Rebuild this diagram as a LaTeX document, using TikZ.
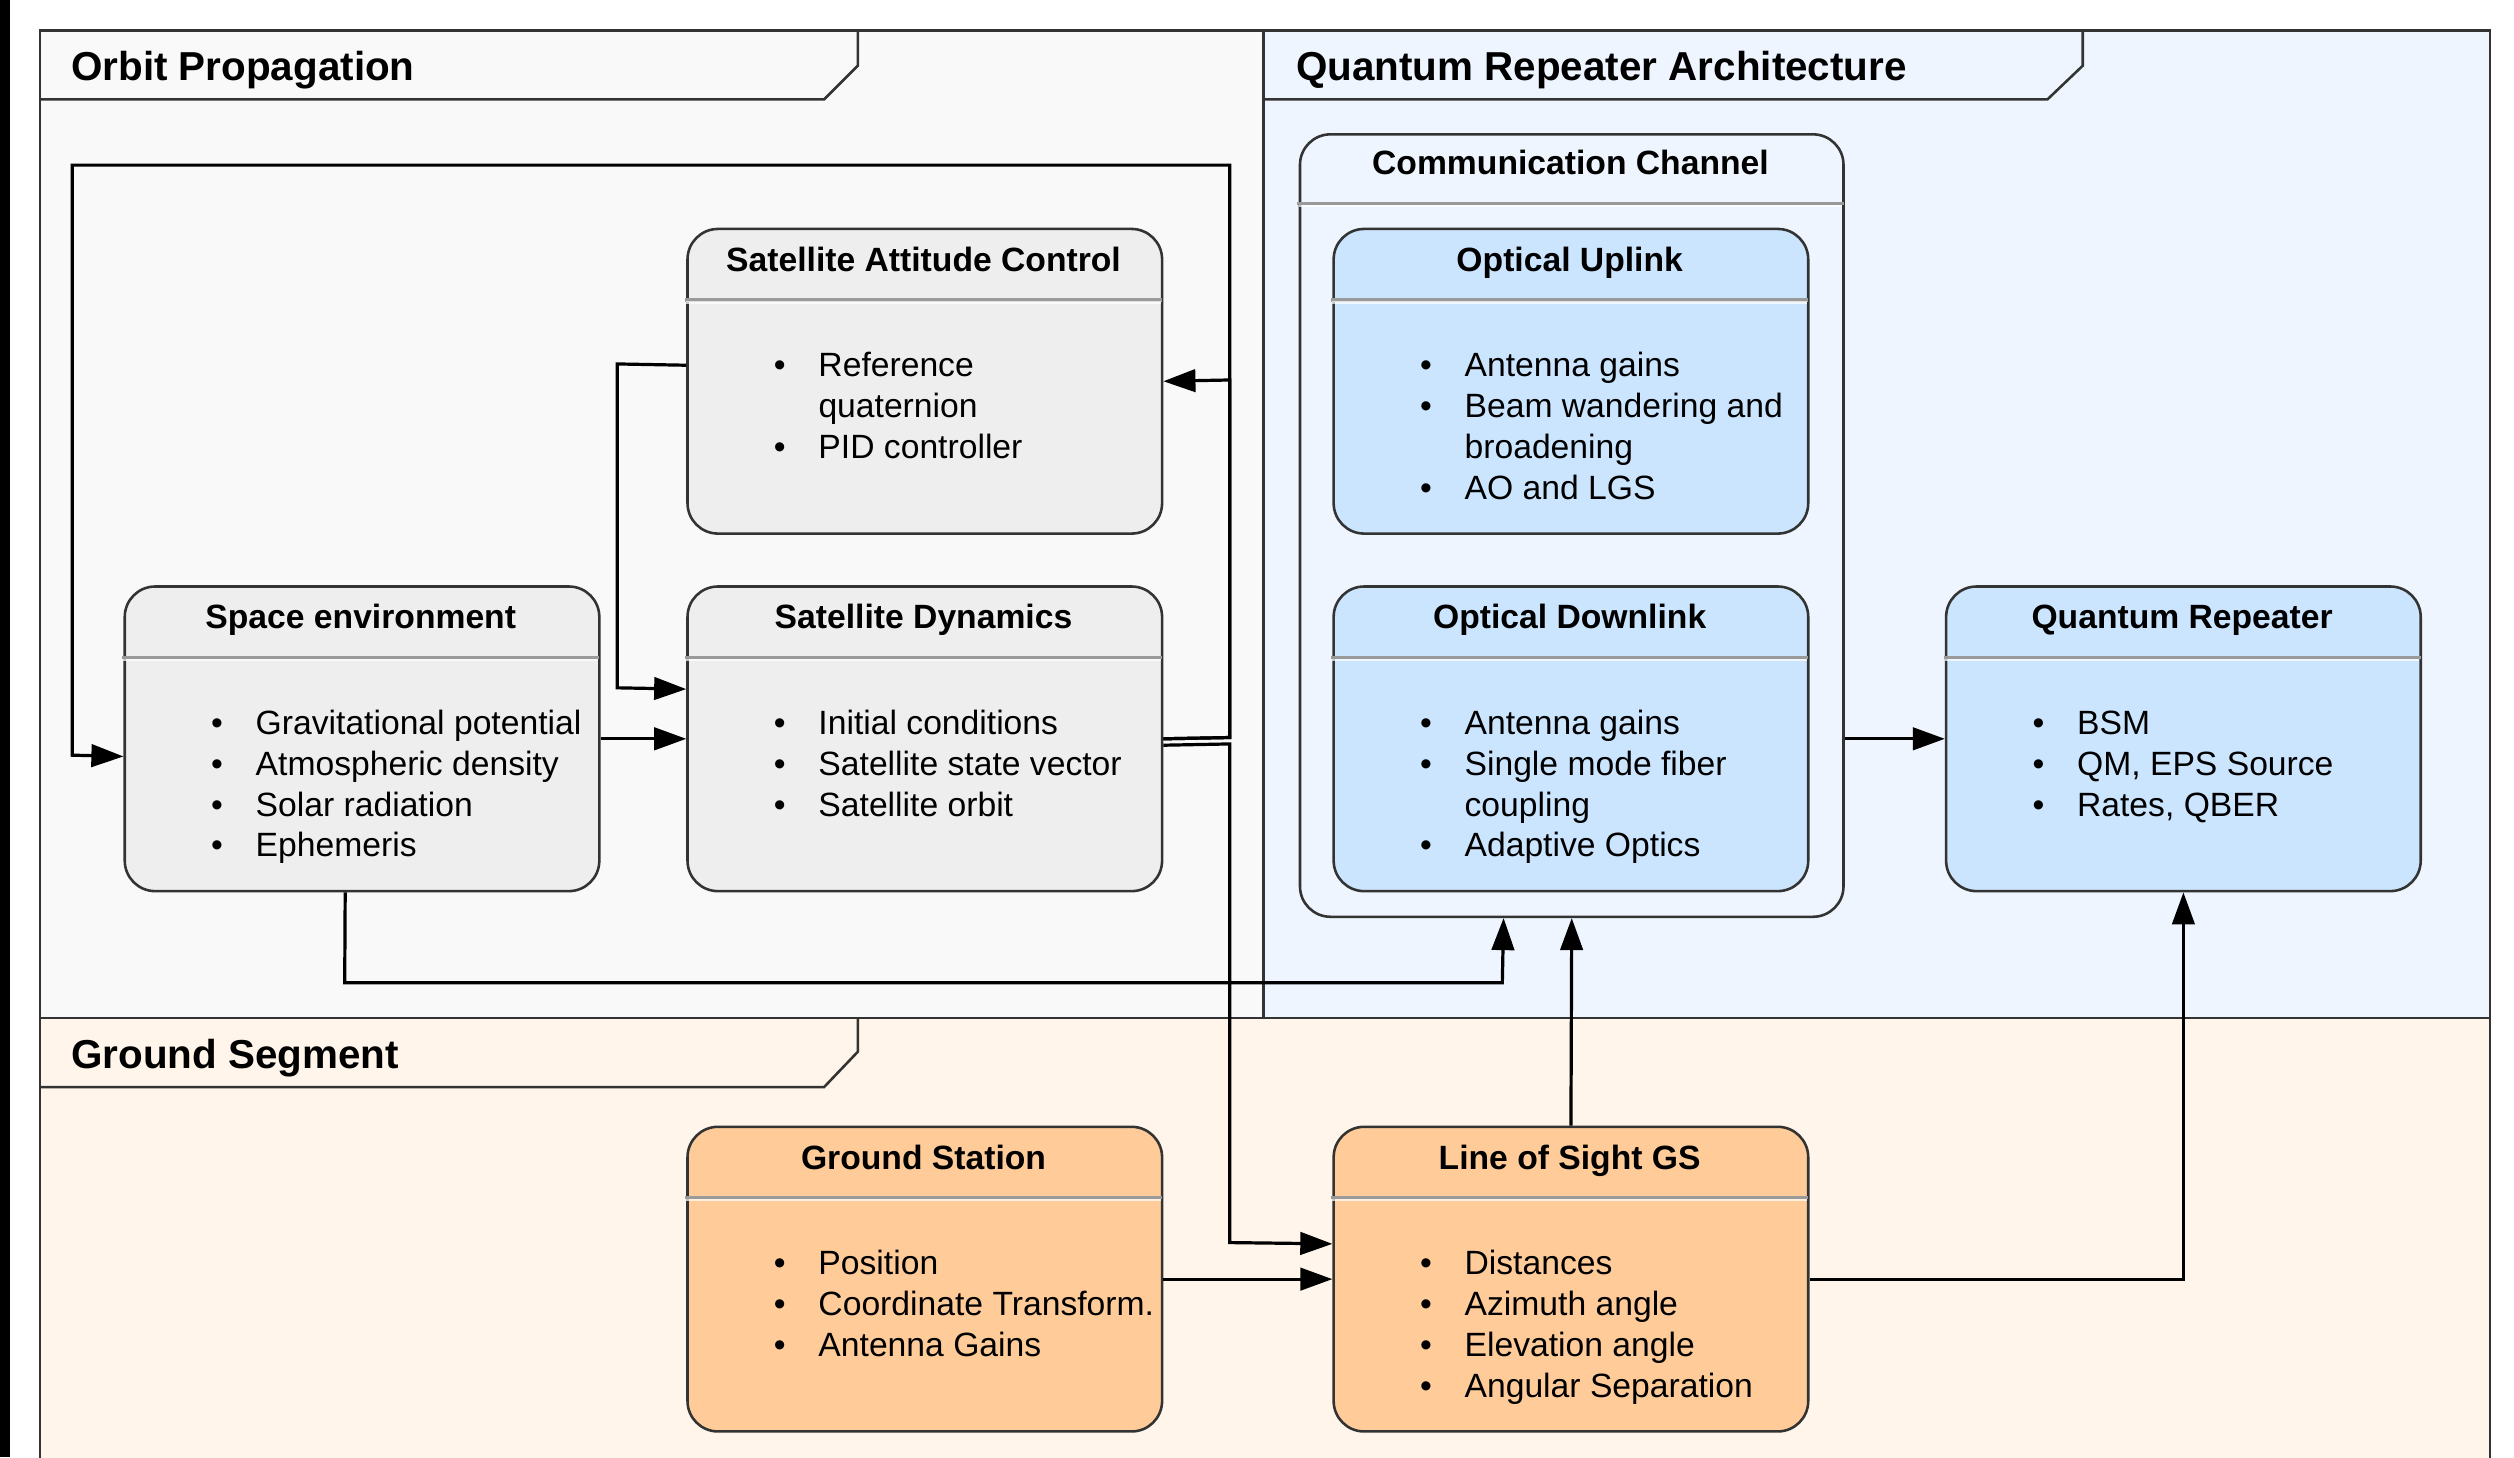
\documentclass[tikz,border=0pt]{standalone}
\usepackage{fontspec}
\setmainfont{Liberation Sans}
\usetikzlibrary{arrows.meta,calc}
\definecolor{strokec}{HTML}{333333}
\definecolor{sepgrey}{HTML}{9A9A9A}
\definecolor{orbitbg}{HTML}{F9F9F9}
\definecolor{qrabg}{HTML}{EEF5FE}
\definecolor{groundbg}{HTML}{FFF5EA}
\definecolor{greybox}{HTML}{EEEEEE}
\definecolor{bluebox}{HTML}{CCE5FF}
\definecolor{orangebox}{HTML}{FFCC99}
\tikzset{
  framest/.style={draw=strokec, line width=0.8pt},
  boxst/.style={draw=strokec, line width=0.8pt, rounded corners=9.5pt, minimum width=148pt, minimum height=95pt, inner sep=0pt},
  sepst/.style={draw=sepgrey, line width=1.1pt},
  seplight/.style={draw=white, opacity=0.7, line width=0.7pt},
  titlest/.style={font=\fontsize{10.5}{12.75}\selectfont\bfseries, inner sep=0pt, anchor=base},
  itemst/.style={font=\fontsize{10.5}{12.75}\selectfont, inner sep=0pt, anchor=base west},
  sectitle/.style={font=\fontsize{12.6}{15}\selectfont\bfseries, inner sep=0pt, anchor=base west},
  conn/.style={draw=black, line width=1pt, -{Triangle[length=10pt,width=7pt]}},
}
\newcommand{\bl}[1]{\makebox[13.9pt][l]{\textbullet}&#1\\}
\newcommand{\cn}[1]{&#1\\}
\newcommand{\ubox}[6]{%
  \node[boxst, fill=#4, anchor=north west] (#1) at (#2,#3) {};
  \node[titlest] (#1-title) at ({#2+148},{#3+27.3}) {#5};
  \draw[sepst] ({#2-0.8},{#3+45}) -- ({#2+296.8},{#3+45});
  \draw[seplight] ({#2},{#3+46.6}) -- ({#2+296},{#3+46.6});
  \node[itemst] (#1-items) at ({#2+54.3},{#3+93}) {\begin{tabular}[t]{@{}l@{}l@{}}#6\end{tabular}};
}
\begin{document}
\begin{tikzpicture}[x=0.5pt,y=-0.5pt]
\useasboundingbox (0,0) rectangle (1568,909);
\fill[white] (0,0) rectangle (1568,909);
\fill[black] (0,0) rectangle (6,909);

% section frames
\begin{scope}
\clip (0,0) rectangle (1568,909);
\draw[framest, fill=groundbg] (25,635) rectangle (1553,930);
\end{scope}
\draw[framest, fill=orbitbg] (25,19) rectangle (788,635);
\draw[framest, fill=qrabg] (788,19) rectangle (1553,635);

% tabs
\draw[framest] (535,19) -- (535,41) -- (514,62) -- (25,62);
\draw[framest] (1299,19) -- (1299,41) -- (1277,62) -- (788,62);
\draw[framest] (535,635) -- (535,656) -- (514,678) -- (25,678);
\node[sectitle] (t-orbit) at (44,50.5) {Orbit Propagation};
\node[sectitle] (t-qra) at (808,50.5) {Quantum Repeater Architecture};
\node[sectitle] (t-ground) at (44,666.5) {Ground Segment};

% communication channel container
\node[draw=strokec, line width=0.8pt, rounded corners=9.5pt, fill=qrabg, minimum width=169.5pt, minimum height=244pt, inner sep=0pt, anchor=north west] (cc) at (810,83) {};
\node[titlest] (cc-title) at (979.5,109) {Communication Channel};
\draw[sepst] (809.2,127) -- (1149.8,127);
\draw[seplight] (810,128.6) -- (1149,128.6);

% boxes
\ubox{sac}{428}{142}{greybox}{Satellite Attitude Control}{\bl{Reference}\cn{quaternion}\bl{PID controller}}
\ubox{se}{77}{365}{greybox}{Space environment}{\bl{Gravitational potential}\bl{Atmospheric density}\bl{Solar radiation}\bl{Ephemeris}}
\ubox{sd}{428}{365}{greybox}{Satellite Dynamics}{\bl{Initial conditions}\bl{Satellite state vector}\bl{Satellite orbit}}
\ubox{ou}{831}{142}{bluebox}{Optical Uplink}{\bl{Antenna gains}\bl{Beam wandering and}\cn{broadening}\bl{AO and LGS}}
\ubox{od}{831}{365}{bluebox}{Optical Downlink}{\bl{Antenna gains}\bl{Single mode fiber}\cn{coupling}\bl{Adaptive Optics}}
\ubox{qr}{1213}{365}{bluebox}{Quantum Repeater}{\bl{BSM}\bl{QM, EPS Source}\bl{Rates, QBER}}
\ubox{gs}{428}{702}{orangebox}{Ground Station}{\bl{Position}\bl{Coordinate Transform.}\bl{Antenna Gains}}
\ubox{los}{831}{702}{orangebox}{Line of Sight GS}{\bl{Distances}\bl{Azimuth angle}\bl{Elevation angle}\bl{Angular Separation}}

% connectors
\draw[conn] (sd.east) -- (767,460) -- (767,103) -- (45,103) -- (45,471) -- ([yshift=-5.5pt]se.west);
\draw[conn] (sd.east) -- (767,460) -- (767,237) -- (sac.east);
\draw[conn] ([yshift=5pt]sac.west) -- (385,227) -- (385,429) -- ([yshift=15.5pt]sd.west);
\draw[conn] (se.east) -- (sd.west);
\draw[conn] ([yshift=-2pt]sd.east) -- (767,464) -- (767,775) -- ([yshift=11pt]los.west);
\draw[conn] (gs.east) -- (los.west);
\draw[conn] ([xshift=-5.25pt]se.south) -- (215,613) -- (937,613) -- ([xshift=-21.25pt]cc.south);
\draw[conn] (los.north) -- (cc.south);
\draw[conn] ([yshift=-66.5pt]cc.east) -- (qr.west);
\draw[conn] (los.east) -| (qr.south);
\end{tikzpicture}
\end{document}
